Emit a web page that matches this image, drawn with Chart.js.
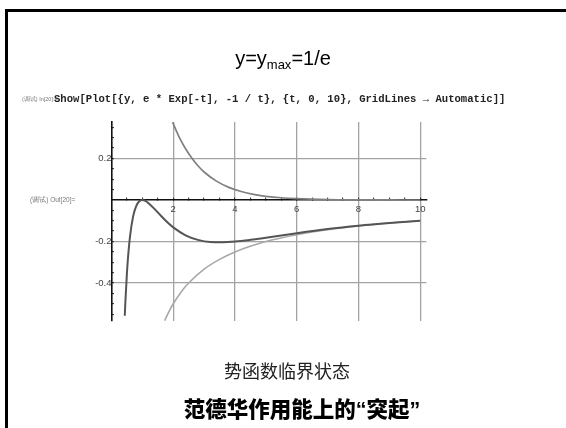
<!DOCTYPE html>
<html>
<head>
<meta charset="utf-8">
<script src="https://cdn.jsdelivr.net/npm/chart.js@4"></script>
<style>
  html, body { margin: 0; padding: 0; background: #fff; }
  #slide { position: relative; width: 566px; height: 428px; overflow: hidden; background: #fff; }
  #frame { position: absolute; left: 5px; top: 9px; right: -5px; bottom: -5px; border-top: 3px solid #000; border-left: 3px solid #000; }
  canvas { position: absolute; left: 0; top: 0; }
  .txt { position: absolute; white-space: nowrap; }
  #title { left: 0; width: 566px; top: 47px; text-align: center; font: 20px "Liberation Sans", Arial, sans-serif; color: #000; }
  #title sub { font-size: 13px; vertical-align: -4px; line-height: 0; }
  #cmdTag { left: 22px; top: 96px; font: 5.5px "Liberation Sans", sans-serif; color: #777; }
  #cmd { left: 54px; top: 93px; font: bold 10.6px "Liberation Mono", "Courier New", monospace; color: #222; }
  #outTag { left: 30px; top: 196px; font: 6.5px "Liberation Sans", sans-serif; color: #777; }
  #cap1 { left: 4px; width: 566px; top: 357px; text-align: center; font: 18px "Noto Sans CJK SC", sans-serif; color: #222; }
  #cap2 { left: 19px; width: 566px; top: 392px; text-align: center; font: 900 21.5px "Noto Sans CJK SC", sans-serif; color: #000; }
  #cap2 .q { font-family: "Liberation Sans", Arial, sans-serif; font-weight: bold; }
</style>
</head>
<body>
<div id="slide">
  <canvas id="plot" width="566" height="428"></canvas>
  <div id="frame"></div>
  <div class="txt" id="title">y=y<sub>max</sub>=1/e</div>
  <div class="txt" id="cmdTag">(调试) In[20]:=</div>
  <div class="txt" id="cmd">Show[Plot[{y, e * Exp[-t], -1 / t}, {t, 0, 10}, GridLines → Automatic]]</div>
  <div class="txt" id="outTag">(调试) Out[20]=</div>
  <div class="txt" id="cap1">势函数临界状态</div>
  <div class="txt" id="cap2">范德华作用能上的<span class="q">“</span>突起<span class="q">”</span></div>
</div>
<script>
// curve y (dark)
const tY = [0.43, 0.45, 0.5, 0.55, 0.6, 0.7, 0.8, 0.9, 1.0, 1.1, 1.2, 1.4, 1.6, 1.8, 2.0, 2.4, 2.8, 3.2, 3.6, 4.0, 4.5, 5, 6, 7, 8, 9, 10];
const vY = [-0.558, -0.489, -0.351, -0.25, -0.175, -0.079, -0.029, -0.006, 0, -0.004, -0.015, -0.044, -0.076, -0.106, -0.132, -0.17, -0.192, -0.202, -0.203, -0.2, -0.192, -0.182, -0.16, -0.14, -0.124, -0.111, -0.1];

// curve e*Exp[-t]
const tExp = [1.98, 2.1, 2.2, 2.4, 2.6, 2.8, 3.0, 3.4, 3.8, 4.2, 4.6, 5, 5.5, 6, 7, 8, 9, 10];
const vExp = [0.375, 0.333, 0.301, 0.247, 0.202, 0.165, 0.135, 0.091, 0.061, 0.041, 0.027, 0.018, 0.011, 0.007, 0.0025, 0.0009, 0.0003, 0.0001];

// curve -1/t
const tInv = [1.72, 1.85, 2, 2.25, 2.5, 3, 3.5, 4, 5, 6, 7, 8, 9, 10];
const vInv = [-0.581, -0.541, -0.5, -0.444, -0.4, -0.333, -0.286, -0.25, -0.2, -0.167, -0.143, -0.125, -0.111, -0.1];

// ticks
const xMajor = [2, 4, 6, 8, 10];
const xMinor = [0.5, 1, 1.5, 2.5, 3, 3.5, 4.5, 5, 5.5, 6.5, 7, 7.5, 8.5, 9, 9.5];
const yMajor = [0.2, -0.2, -0.4];
const yMinor = [0.35, 0.3, 0.25, 0.15, 0.1, 0.05, -0.05, -0.1, -0.15, -0.25, -0.3, -0.35, -0.45, -0.5, -0.55];

const pts = (ts, vs) => ts.map((t, i) => ({ x: t, y: vs[i] }));
const isMajor = (list, v) => list.some(m => Math.abs(m - v) < 1e-9);

new Chart(document.getElementById('plot'), {
    type: 'line',
    data: {
        datasets: [
            { label: 'y', data: pts(tY, vY), borderColor: '#555555', borderWidth: 2, order: 0 },
            { label: 'e*Exp[-t]', data: pts(tExp, vExp), borderColor: '#808080', borderWidth: 1.7, order: 1 },
            { label: '-1/t', data: pts(tInv, vInv), borderColor: '#a8a8a8', borderWidth: 1.6, order: 2 }
        ]
    },
    options: {
        responsive: false,
        animation: false,
        devicePixelRatio: 1,
        layout: { padding: { left: 111.5, right: 139.6, top: 122, bottom: 107 } },
        elements: {
            point: { radius: 0 },
            line: { cubicInterpolationMode: 'monotone', fill: false }
        },
        plugins: { legend: { display: false }, tooltip: { enabled: false } },
        scales: {
            x: {
                type: 'linear',
                min: 0,
                max: 10.2,
                position: { y: 0 },
                afterBuildTicks: s => { s.ticks = xMajor.concat(xMinor).map(v => ({ value: v })); },
                grid: {
                    color: c => isMajor(xMajor, c.tick.value) ? '#a3a3a3' : 'rgba(0,0,0,0)',
                    lineWidth: 1.3,
                    tickColor: '#222',
                    tickLength: -3,
                    tickWidth: 1
                },
                border: { display: true, color: '#111', width: 1.6 },
                ticks: {
                    padding: 7,
                    maxRotation: 0,
                    autoSkip: false,
                    color: '#444',
                    font: { family: 'Liberation Sans', size: 9.5 },
                    callback: v => isMajor(xMajor, v) ? String(v) : ''
                }
            },
            y: {
                type: 'linear',
                min: -0.583,
                max: 0.376,
                position: { x: 0 },
                afterBuildTicks: s => { s.ticks = yMajor.concat(yMinor).map(v => ({ value: v })); },
                grid: {
                    color: c => isMajor(yMajor, c.tick.value) ? '#a3a3a3' : 'rgba(0,0,0,0)',
                    lineWidth: 1.3,
                    tickColor: '#222',
                    tickLength: -3,
                    tickWidth: 1
                },
                border: { display: true, color: '#111', width: 1.6 },
                ticks: {
                    padding: 6,
                    autoSkip: false,
                    color: '#444',
                    font: { family: 'Liberation Sans', size: 9.5 },
                    callback: v => isMajor(yMajor, v) ? String(v) : ''
                }
            }
        }
    }
});
</script>
</body>
</html>
